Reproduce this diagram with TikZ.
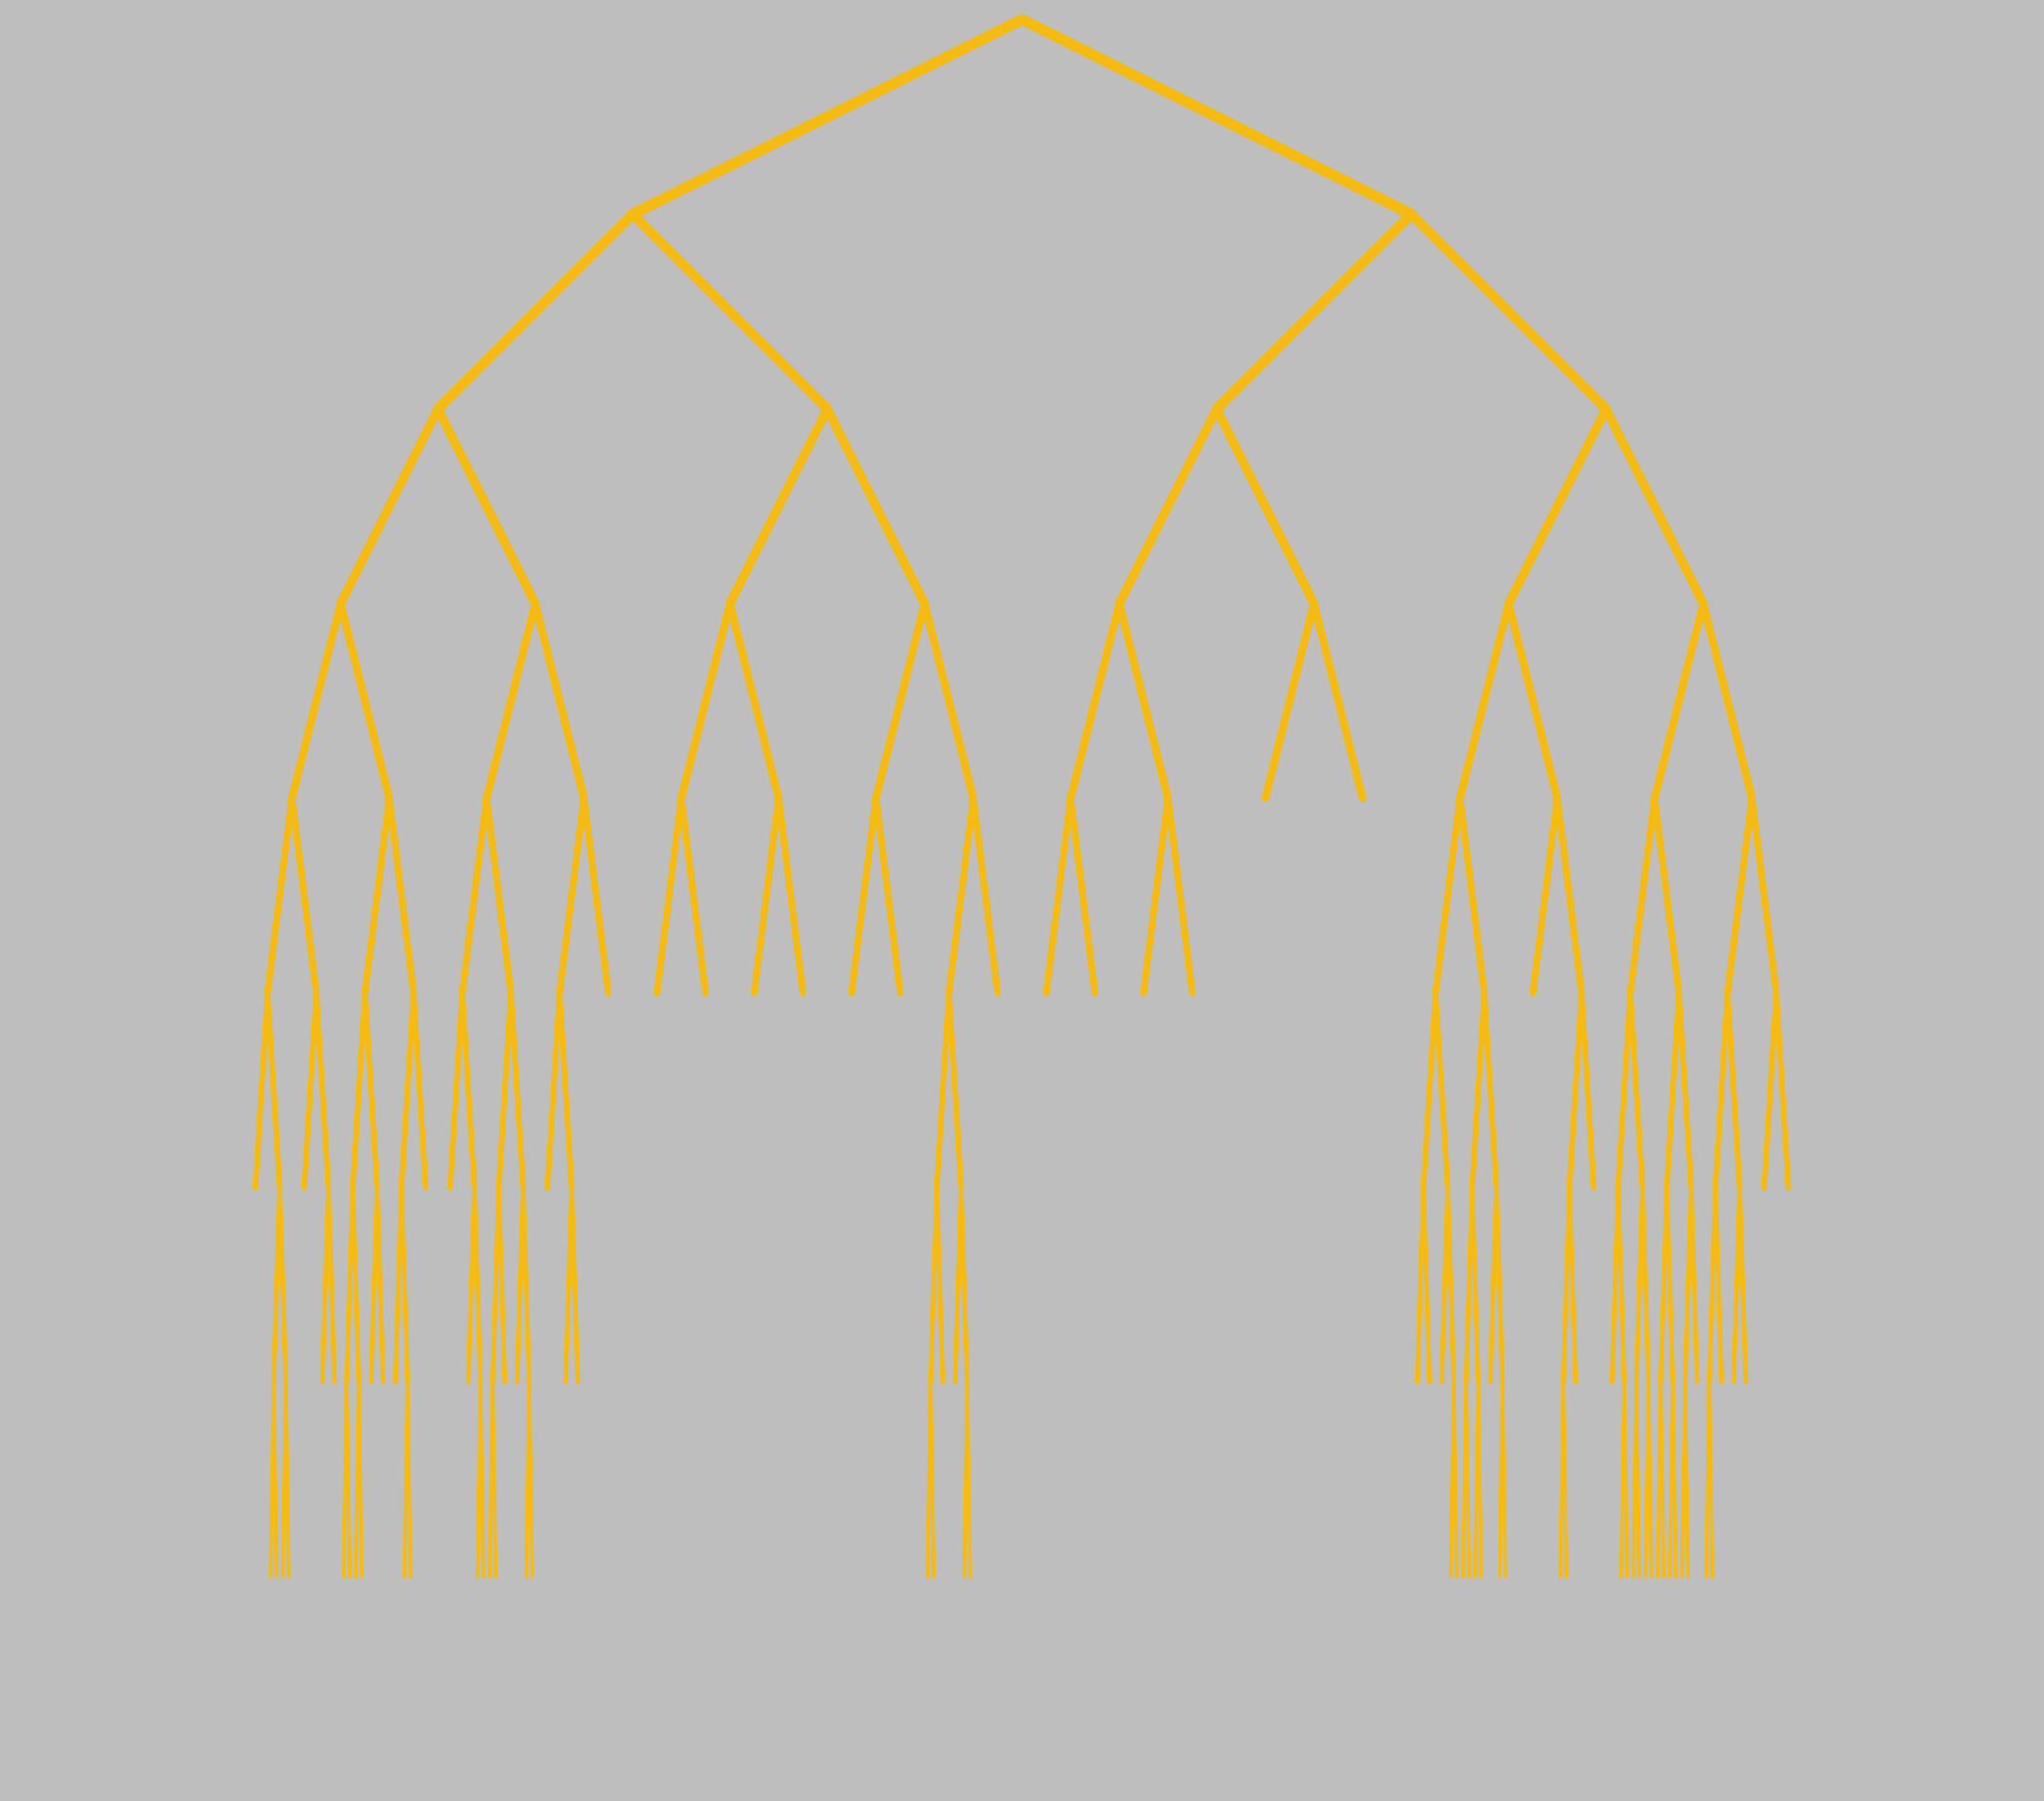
\documentclass[tikz,border=0pt]{standalone}
\usepackage{xcolor}
\definecolor{bggray}{HTML}{BEBEBE}
\definecolor{branchgold}{HTML}{F5BB12}

\begin{document}
\begin{tikzpicture}[
    level distance=2cm,
    level/.style={sibling distance=16cm/2^#1, line width={(11.5-#1)*0.3pt}},
    edge from parent/.style={draw, branchgold, line cap=round}
  ]
  \fill[bggray] (0,0) rectangle (21,-18.5);
  \coordinate (root) at (10.5,-0.2)
    child {coordinate % L
      child {coordinate % LL
        child {coordinate % LLL
          child {coordinate % LLLL
            child {coordinate % LLLLL
              child {coordinate}
              child {coordinate
                child {coordinate child {coordinate} child {coordinate}}
                child {coordinate child {coordinate} child {coordinate}}}
            }
            child {coordinate % LLLLR
              child {coordinate}
              child {coordinate child {coordinate} child {coordinate}}
            }
          }
          child {coordinate % LLLR
            child {coordinate % LLLRL
              child {coordinate
                child {coordinate child {coordinate} child {coordinate}}
                child {coordinate child {coordinate} child {coordinate}}}
              child {coordinate child {coordinate} child {coordinate}}
            }
            child {coordinate % LLLRR
              child {coordinate
                child {coordinate}
                child {coordinate child {coordinate} child {coordinate}}}
              child {coordinate}
            }
          }
        }
        child {coordinate % LLR
          child {coordinate % LLRL
            child {coordinate % LLRLL
              child {coordinate}
              child {coordinate
                child {coordinate}
                child {coordinate child {coordinate} child {coordinate}}}
            }
            child {coordinate % LLRLR
              child {coordinate
                child {coordinate child {coordinate} child {coordinate}}
                child {coordinate}}
              child {coordinate
                child {coordinate}
                child {coordinate child {coordinate} child {coordinate}}}
            }
          }
          child {coordinate % LLRR
            child {coordinate % LLRRL
              child {coordinate}
              child {coordinate child {coordinate} child {coordinate}}
            }
            child {coordinate} % LLRRR
          }
        }
      }
      child {coordinate % LR
        child {coordinate % LRL
          child {coordinate child {coordinate} child {coordinate}} % LRLL
          child {coordinate child {coordinate} child {coordinate}} % LRLR
        }
        child {coordinate % LRR
          child {coordinate child {coordinate} child {coordinate}} % LRRL
          child {coordinate % LRRR
            child {coordinate % LRRRL
              child {coordinate
                child {coordinate child {coordinate} child {coordinate}}
                child {coordinate}}
              child {coordinate
                child {coordinate}
                child {coordinate child {coordinate} child {coordinate}}}
            }
            child {coordinate} % LRRRR
          }
        }
      }
    }
    child {coordinate % R
      child {coordinate % RL
        child {coordinate % RLL
          child {coordinate child {coordinate} child {coordinate}} % RLLL
          child {coordinate child {coordinate} child {coordinate}} % RLLR
        }
        child {coordinate child {coordinate} child {coordinate}} % RLR
      }
      child {coordinate % RR
        child {coordinate % RRL
          child {coordinate % RRLL
            child {coordinate % RRLLL
              child {coordinate child {coordinate} child {coordinate}}
              child {coordinate
                child {coordinate}
                child {coordinate child {coordinate} child {coordinate}}}
            }
            child {coordinate % RRLLR
              child {coordinate
                child {coordinate child {coordinate} child {coordinate}}
                child {coordinate child {coordinate} child {coordinate}}}
              child {coordinate
                child {coordinate}
                child {coordinate child {coordinate} child {coordinate}}}
            }
          }
          child {coordinate % RRLR
            child {coordinate} % RRLRL
            child {coordinate % RRLRR
              child {coordinate
                child {coordinate child {coordinate} child {coordinate}}
                child {coordinate}}
              child {coordinate}
            }
          }
        }
        child {coordinate % RRR
          child {coordinate % RRRL
            child {coordinate % RRRLL
              child {coordinate
                child {coordinate}
                child {coordinate child {coordinate} child {coordinate}}}
              child {coordinate
                child {coordinate child {coordinate} child {coordinate}}
                child {coordinate child {coordinate} child {coordinate}}}
            }
            child {coordinate % RRRLR
              child {coordinate
                child {coordinate child {coordinate} child {coordinate}}
                child {coordinate child {coordinate} child {coordinate}}}
              child {coordinate
                child {coordinate child {coordinate} child {coordinate}}
                child {coordinate}}
            }
          }
          child {coordinate % RRRR
            child {coordinate % RRRRL
              child {coordinate
                child {coordinate child {coordinate} child {coordinate}}
                child {coordinate}}
              child {coordinate child {coordinate} child {coordinate}}
            }
            child {coordinate child {coordinate} child {coordinate}} % RRRRR
          }
        }
      }
    };
\end{tikzpicture}
\end{document}
